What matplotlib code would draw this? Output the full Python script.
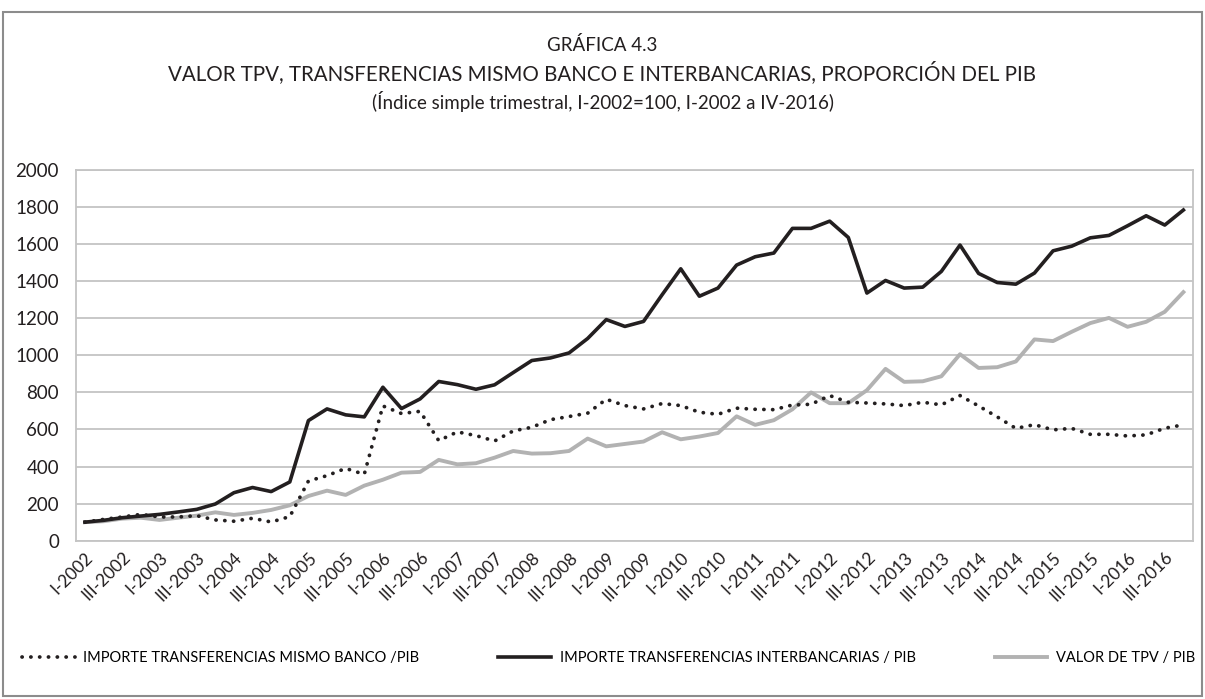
import matplotlib
matplotlib.use("Agg")
import matplotlib.pyplot as plt
from matplotlib.patches import Rectangle

plt.rcParams['font.family'] = ['Lato', 'DejaVu Sans']

# Quarterly periods, I-2002 .. IV-2016
years = list(range(2002, 2017))
quarters = ["I", "II", "III", "IV"]
periods = [f"{q}-{y}" for y in years for q in quarters]

mismo_banco = [100, 115, 128, 142, 128, 128, 135, 112, 105, 121,
               101, 130, 322, 351, 390, 358, 727, 686, 698, 540,
               587, 567, 538, 592, 612, 653, 670, 688, 763, 729,
               711, 740, 729, 693, 682, 715, 709, 707, 732, 736,
               783, 747, 743, 738, 729, 747, 733, 783, 727, 668,
               606, 626, 598, 606, 574, 574, 565, 571, 607, 625]

interbancarias = [100, 110, 124, 133, 142, 155, 169, 198, 259, 287,
                  265, 317, 648, 711, 679, 668, 828, 713, 765, 859,
                  842, 817, 841, 907, 972, 986, 1013, 1091, 1193, 1156,
                  1183, 1327, 1467, 1319, 1363, 1487, 1532, 1552, 1685, 1685,
                  1724, 1636, 1336, 1404, 1363, 1368, 1453, 1595, 1442, 1393,
                  1384, 1444, 1564, 1589, 1634, 1647, 1699, 1753, 1703, 1784]

tpv = [100, 105, 119, 124, 112, 124, 135, 153, 139, 150,
       166, 191, 241, 270, 247, 297, 329, 367, 371, 436,
       412, 418, 448, 484, 470, 472, 484, 551, 509, 522,
       535, 585, 547, 562, 581, 671, 625, 650, 709, 800,
       742, 742, 812, 927, 857, 860, 887, 1006, 932, 936,
       967, 1086, 1077, 1127, 1174, 1202, 1154, 1181, 1235, 1341]

series_labels = ["IMPORTE TRANSFERENCIAS MISMO BANCO /PIB",
                 "IMPORTE TRANSFERENCIAS INTERBANCARIAS / PIB",
                 "VALOR DE TPV / PIB"]

title_lines = ["GRÁFICA 4.3",
               "VALOR TPV, TRANSFERENCIAS MISMO BANCO E INTERBANCARIAS, PROPORCIÓN DEL PIB",
               "(Índice simple trimestral, I-2002=100, I-2002 a IV-2016)"]

y_ticks = list(range(0, 2001, 200))

W, H = 1205, 699
fig = plt.figure(figsize=(W / 100, H / 100), dpi=100)

# outer frame
fig.patches.append(Rectangle((3 / W, 3 / H), (W - 6) / W, (H - 15) / H,
                             transform=fig.transFigure, fill=False,
                             edgecolor="#8c8c8c", linewidth=1.5))

ax = fig.add_axes([75.7 / W, 1 - 540.7 / H, (1192.7 - 75.7) / W, (540.7 - 170) / H])

x = list(range(len(periods)))
grid_c = "#c4c4c4"
black = "#231f20"
gray = "#b2b2b2"

l1, = ax.plot(x, mismo_banco, color=black, linewidth=2.7,
              linestyle=(0, (0.05, 2.3)), dash_capstyle="round",
              label=series_labels[0], zorder=3)
l2, = ax.plot(x, interbancarias, color=black, linewidth=2.6,
              label=series_labels[1], zorder=4)
l3, = ax.plot(x, tpv, color=gray, linewidth=2.8,
              label=series_labels[2], zorder=2)

ax.set_xlim(-0.5, len(periods) - 0.5)
ax.set_ylim(0, 2000)
ax.set_yticks(y_ticks)
ax.set_yticklabels([str(v) for v in y_ticks], fontsize=13.5, color="#231f20")
ax.yaxis.grid(True, color=grid_c, linewidth=1.3)
ax.set_axisbelow(True)

ax.set_xticks(x[::2])
ax.set_xticklabels(periods[::2], rotation=45, ha="right", va="top",
                   rotation_mode="anchor", fontsize=12.5, color="#231f20")
ax.tick_params(axis="both", length=0)
ax.tick_params(axis="x", pad=6)
ax.tick_params(axis="y", pad=12)

for s in ax.spines.values():
    s.set_color(grid_c)
    s.set_linewidth(1.3)

# titles
title_sizes = [13.5, 14.8, 13.5]
ys = [45, 73, 102]
for t, yy, fs in zip(title_lines, ys, title_sizes):
    fig.text(0.5, 1 - yy / H, t, ha="center", va="center", fontsize=fs,
             color="#231f20")

# legend stretched across the lower band
fig.legend(handles=[l1, l2, l3], loc="center", ncol=3, frameon=False,
           mode="expand", borderaxespad=0, borderpad=0,
           bbox_to_anchor=(22 / W, 1 - 670 / H, (1195 - 22) / W, 24 / H),
           fontsize=10.5, handlelength=3.6, handletextpad=0.6)

fig.savefig("out.png", dpi=100)
